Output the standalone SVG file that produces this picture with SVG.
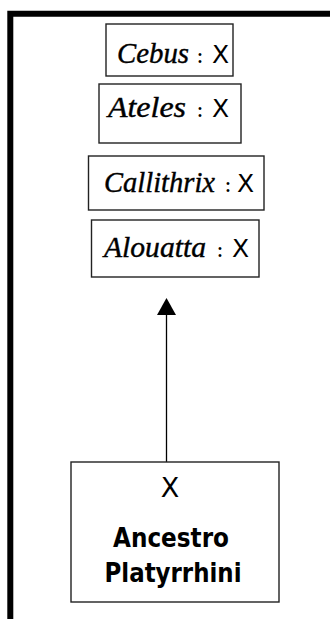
<svg xmlns="http://www.w3.org/2000/svg" width="330" height="619" viewBox="0 0 330 619">
<style>
.box{fill:#fff;stroke:#222;stroke-width:1.4}
.sp{font-family:"Liberation Serif","DejaVu Serif",serif;font-style:italic;font-size:29px;fill:#000;stroke:#000;stroke-width:0.4}
.col{font-family:"DejaVu Serif","Liberation Serif",serif;font-size:22px;fill:#000;text-anchor:middle}
.x{font-family:"DejaVu Sans","Liberation Sans",sans-serif;font-size:25px;fill:#000}
.anc{font-family:"DejaVu Sans","Liberation Sans",sans-serif;font-weight:bold;font-size:27px;fill:#000;text-anchor:middle}
</style>
<rect width="330" height="619" fill="#fff"/>
<path d="M10.3,619 V13.7 H330" fill="none" stroke="#000" stroke-width="6"/>
<g id="connectors">
<line x1="166.5" y1="314" x2="166.5" y2="462" stroke="#000" stroke-width="1.3"/>
<polygon points="157,315 176,315 166.5,298" fill="#000"/>
</g>
<g id="cebus">
<rect class="box" x="106" y="24" width="127" height="52"/>
<text class="sp" x="117" y="63" textLength="72" lengthAdjust="spacingAndGlyphs">Cebus</text>
<text class="col" x="200" y="63">:</text>
<text class="x" x="212" y="63">X</text>
</g>
<g id="ateles">
<rect class="box" x="99" y="84" width="142" height="59"/>
<text class="sp" x="108" y="117" textLength="78" lengthAdjust="spacingAndGlyphs">Ateles</text>
<text class="col" x="200" y="117">:</text>
<text class="x" x="212" y="117">X</text>
</g>
<g id="callithrix">
<rect class="box" x="88.5" y="156" width="175.5" height="54"/>
<text class="sp" x="104" y="192" textLength="111" lengthAdjust="spacingAndGlyphs">Callithrix</text>
<text class="col" x="228" y="192">:</text>
<text class="x" x="237" y="192">X</text>
</g>
<g id="alouatta">
<rect class="box" x="91.5" y="220" width="167.5" height="57"/>
<text class="sp" x="104" y="257" textLength="102" lengthAdjust="spacingAndGlyphs">Alouatta</text>
<text class="col" x="220" y="257">:</text>
<text class="x" x="232" y="257">X</text>
</g>
<g id="ancestro">
<rect class="box" x="71" y="462" width="208" height="140"/>
<text class="x" x="170" y="497" text-anchor="middle" style="font-size:27px">X</text>
<text class="anc" x="171" y="547" textLength="116" lengthAdjust="spacingAndGlyphs">Ancestro</text>
<text class="anc" x="173" y="582" textLength="137" lengthAdjust="spacingAndGlyphs">Platyrrhini</text>
</g>
</svg>
